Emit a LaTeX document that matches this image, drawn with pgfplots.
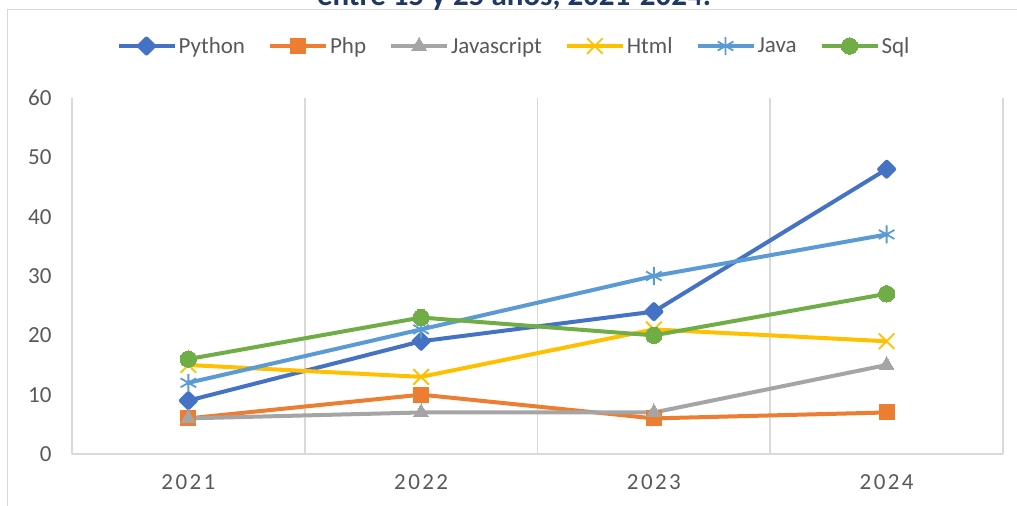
\documentclass[border=0pt]{standalone}
\usepackage{pgfplots}
\pgfplotsset{compat=1.18}
\usepackage{fontspec}
\setmainfont{Carlito}
\definecolor{cPython}{HTML}{4472C4}
\definecolor{cPhp}{HTML}{ED7D31}
\definecolor{cJs}{HTML}{A5A5A5}
\definecolor{cHtml}{HTML}{FFC000}
\definecolor{cJava}{HTML}{5B9BD5}
\definecolor{cSql}{HTML}{70AD47}
\definecolor{gridc}{HTML}{D9D9D9}
\definecolor{txtc}{HTML}{595959}
\definecolor{titlec}{HTML}{203864}
\newcommand\spc[4]{#1\kern2.4bp#2\kern2.4bp#3\kern2.4bp#4}
\begin{document}
\begin{tikzpicture}
\draw[gridc, line width=1.4bp] (7.5bp,-2bp) -- (7.5bp,496.5bp) -- (1020bp,496.5bp);
\node[anchor=base, text=titlec, font=\fontsize{31bp}{36bp}\selectfont\bfseries] at (514bp,500.5bp) {entre 15 y 25 años, 2021-2024.};
\begin{axis}[
  at={(72bp,52bp)}, anchor=south west,
  scale only axis, width=931bp, height=356bp,
  xmin=-0.5, xmax=3.5, ymin=0, ymax=60,
  xtick={0,1,2,3},
  xticklabels={{\spc2021},{\spc2022},{\spc2023},{\spc2024}},
  ytick={0,10,...,60},
  extra x ticks={-0.5,0.5,1.5,2.5,3.5},
  extra x tick labels={},
  extra x tick style={grid=major, major grid style={gridc, line width=1.8bp}},
  major tick length=0pt,
  axis x line*=bottom, axis y line*=left,
  x axis line style={gridc, line width=1.8bp, -},
  y axis line style={draw=none},
  tick style={draw=none},
  /pgf/number format/assume math mode=true,
  tick label style={font=\fontsize{23bp}{27bp}\selectfont, text=txtc},
  yticklabel style={anchor=east, xshift=-17bp},
  xticklabel style={yshift=-17bp},
  legend columns=6,
  legend style={at={(0.4748,1.146)}, anchor=center, draw=none, fill=none,
    font=\fontsize{23bp}{27bp}\selectfont, text=txtc,
    nodes={inner sep=2bp},
    /tikz/every even column/.append style={column sep=21bp}},
  legend image code/.code={\draw[mark repeat=2,mark phase=2] plot coordinates {(0bp,0bp)(28bp,0bp)(56bp,0bp)};},
  every axis plot/.append style={line width=4bp, line join=round},
]
\addplot[cPython, mark=square*, mark size=5.3bp, mark options={rotate=45, solid, fill=cPython}] coordinates {(0,9) (1,19) (2,24) (3,48)};
\addlegendentry{Python}
\addplot[cPhp, mark=square*, mark size=7.5bp, mark options={solid, fill=cPhp, line width=0bp}] coordinates {(0,6) (1,10) (2,6) (3,7)};
\addlegendentry{Php}
\addplot[cJs, mark=triangle*, mark size=8.5bp, mark options={solid, fill=cJs, line width=0bp}] coordinates {(0,6) (1,7) (2,7) (3,15)};
\addlegendentry{Javascript}
\addplot[cHtml, mark=x, mark size=11bp, mark options={solid, line width=1.8bp}] coordinates {(0,15) (1,13) (2,21) (3,19)};
\addlegendentry{Html}
\addplot[cJava, mark=asterisk, mark size=9bp, mark options={solid, line width=1.8bp}] coordinates {(0,12) (1,21) (2,30) (3,37)};
\addlegendentry{Java}
\addplot[cSql, mark=*, mark size=8.2bp, mark options={solid, fill=cSql, line width=0bp}] coordinates {(0,16) (1,23) (2,20) (3,27)};
\addlegendentry{Sql}
\end{axis}
\pgfresetboundingbox
\path[use as bounding box] (0,0) rectangle (1017bp,506bp);
\end{tikzpicture}
\end{document}
